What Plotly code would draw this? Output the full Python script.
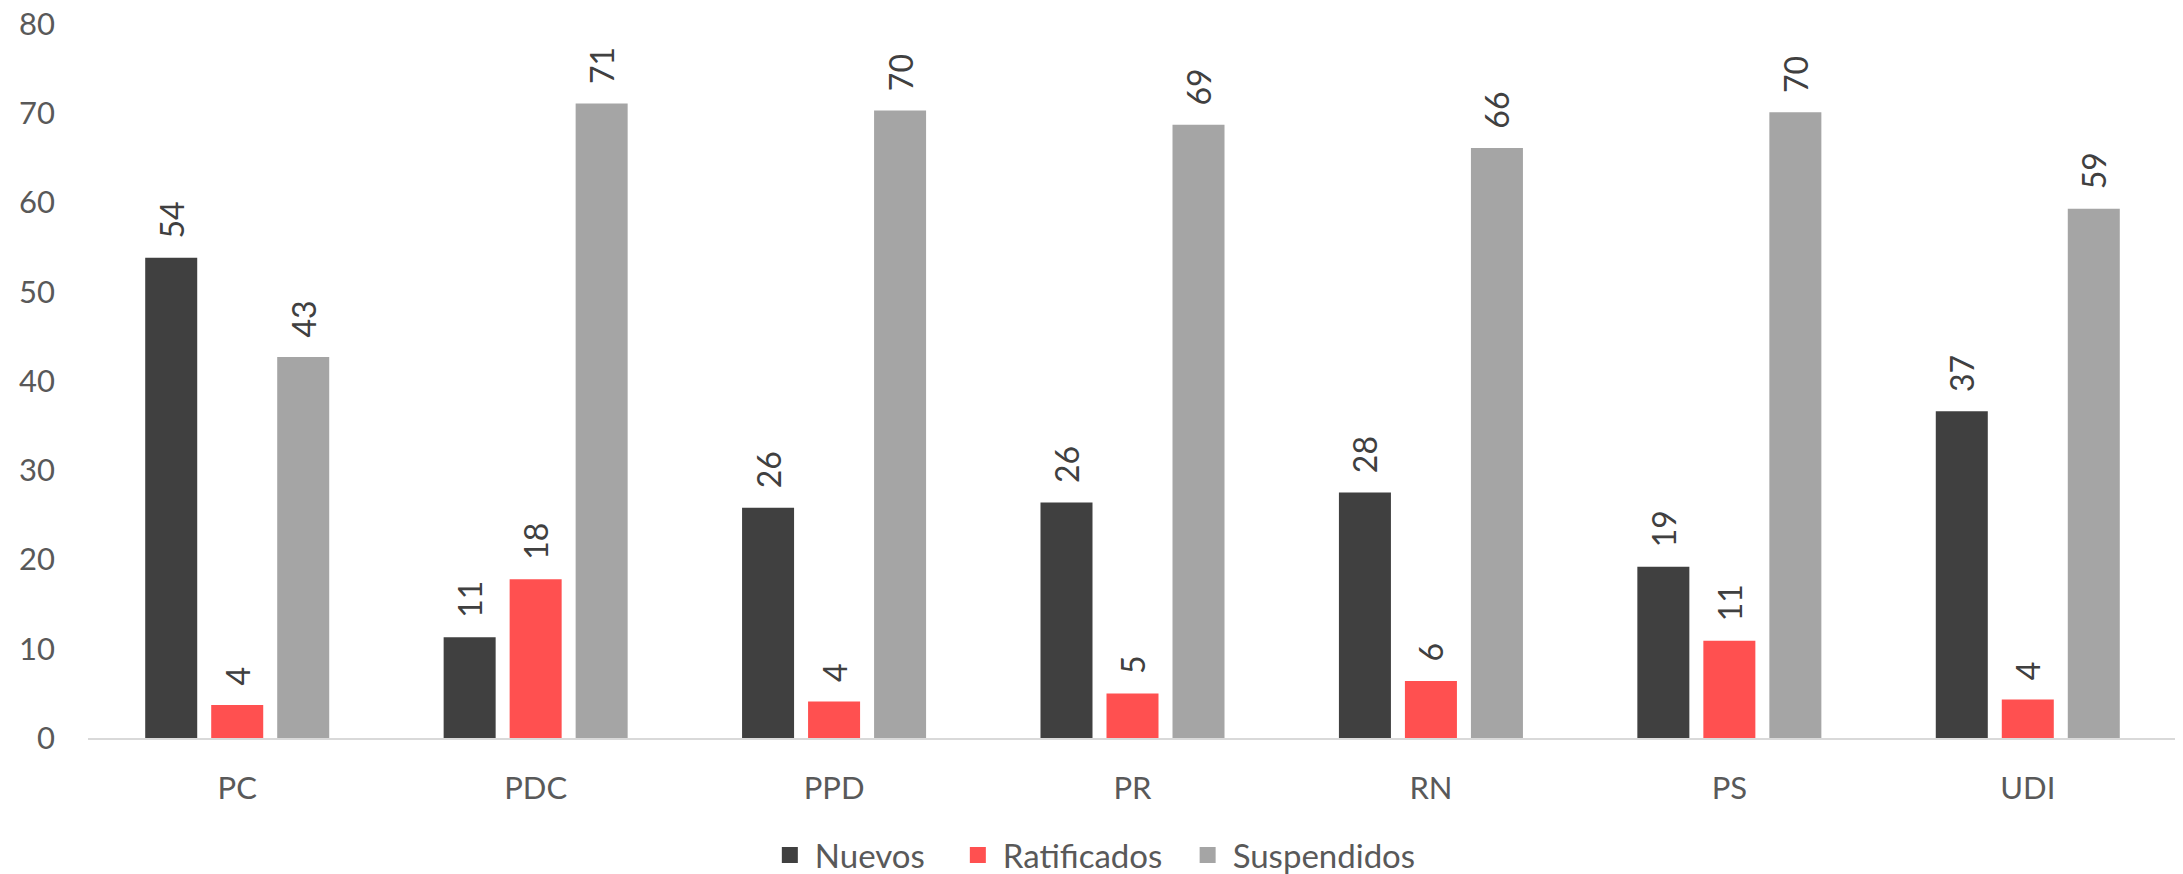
import plotly.graph_objects as go

categories = ["PC", "PDC", "PPD", "PR", "RN", "PS", "UDI"]
nuevos = [53.8, 11.3, 25.8, 26.4, 27.5, 19.2, 36.6]
ratificados = [3.7, 17.8, 4.1, 5.0, 6.4, 10.9, 4.3]
suspendidos = [42.7, 71.1, 70.3, 68.7, 66.1, 70.1, 59.3]
series_names = ["Nuevos", "Ratificados", "Suspendidos"]
colors = ["#404040", "#FF5050", "#A5A5A5"]
y_ticks = [0, 10, 20, 30, 40, 50, 60, 70, 80]

FONT = "Lato"
legend_ids = ["legend", "legend2", "legend3"]
legend_x = [0.324, 0.414, 0.524]

fig = go.Figure()
for name, vals, col in zip(series_names, [nuevos, ratificados, suspendidos], colors):
    fig.add_trace(go.Bar(
        name=name, x=categories, y=vals, legendgroup=name, showlegend=False,
        marker=dict(color=col, line=dict(width=0)),
        texttemplate="\u00a0\u00a0%{y:.0f}", textposition="outside", textangle=-90,
        constraintext="none", cliponaxis=False,
        textfont=dict(family=FONT, size=32, color="#404040"),
    ))
# legend entries with larger square swatches, one legend box per entry
for name, col, lid in zip(series_names, colors, legend_ids):
    fig.add_trace(go.Scatter(
        name=name, x=[None], y=[None], mode="markers", legendgroup=name, legend=lid,
        marker=dict(symbol="square", size=20, color=col), showlegend=True,
    ))

legend_common = dict(orientation="h", xanchor="left", y=-0.164, yanchor="middle",
                     font=dict(family=FONT, size=33, color="#595959"),
                     itemsizing="trace", itemwidth=40, bgcolor="rgba(0,0,0,0)")

fig.update_layout(
    width=2183, height=874,
    margin=dict(l=80, r=14, t=16, b=144, autoexpand=False),
    paper_bgcolor="white", plot_bgcolor="white",
    barmode="group", bargap=0.3365, bargroupgap=0.212,
    legend=dict(x=legend_x[0], **legend_common),
    legend2=dict(x=legend_x[1], **legend_common),
    legend3=dict(x=legend_x[2], **legend_common),
    xaxis=dict(showgrid=False, showline=True, linecolor="#D9D9D9", linewidth=2,
               ticks="", ticklabelstandoff=22, automargin=False,
               tickfont=dict(family=FONT, size=31, color="#595959")),
    yaxis=dict(range=[0, 80], tickvals=y_ticks, showgrid=False, zeroline=False,
               showline=False, ticks="", ticklabelstandoff=32, automargin=False,
               ticklabeloverflow="allow",
               tickfont=dict(family=FONT, size=31, color="#595959")),
)

fig.write_html("out.html")
